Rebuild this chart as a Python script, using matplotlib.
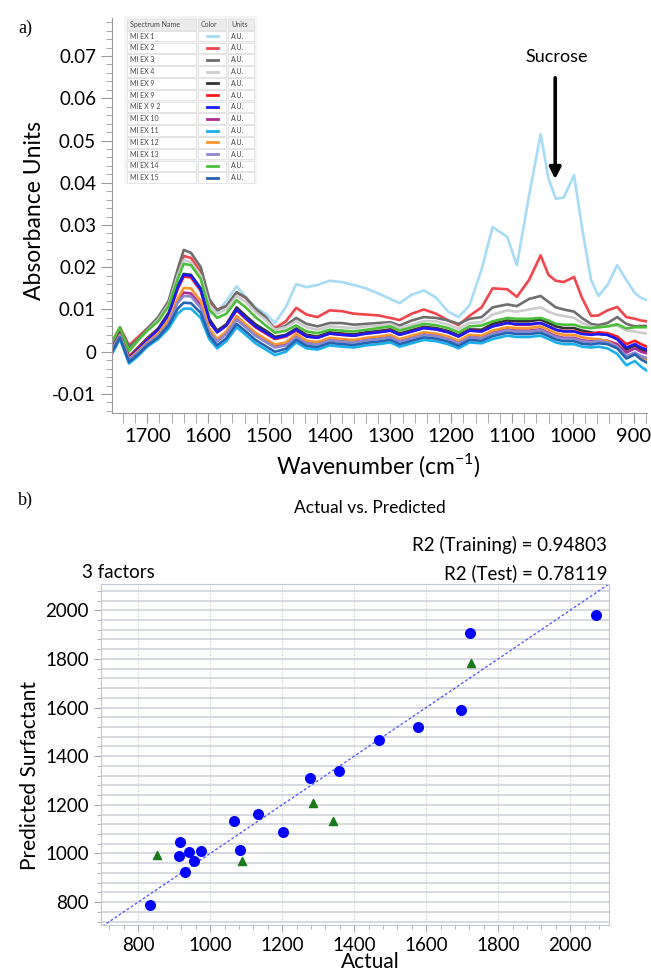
import matplotlib
matplotlib.use("Agg")
import matplotlib.pyplot as plt
from matplotlib.patches import Rectangle
from matplotlib.ticker import MultipleLocator

plt.rcParams['font.family'] = ['Lato', 'DejaVu Sans']

# panel a) FTIR spectra, absorbance
wavenumber = [1758, 1745, 1730, 1715, 1700, 1682, 1665, 1650, 1640, 1628,
              1612, 1598, 1585, 1570, 1553, 1538, 1522, 1505, 1490, 1472,
              1455, 1438, 1420, 1400, 1380, 1360, 1340, 1320, 1300, 1285,
              1265, 1245, 1225, 1205, 1188, 1170, 1150, 1132, 1108, 1092,
              1072, 1053, 1040, 1028, 1015, 998, 985, 970, 958, 943,
              927, 912, 898, 888, 878]

mi_ex_1 = [0.0015, 0.0050, 0.0010, 0.0030, 0.0050, 0.0075, 0.0110, 0.0160, 0.0185, 0.0175,
           0.0140, 0.0090, 0.0095, 0.0120, 0.0155, 0.0130, 0.0105, 0.0090, 0.0068, 0.0106,
           0.0160, 0.0153, 0.0158, 0.0168, 0.0165, 0.0158, 0.0150, 0.0138, 0.0125, 0.0115,
           0.0135, 0.0145, 0.0128, 0.0095, 0.0082, 0.0110, 0.0195, 0.0295, 0.0272, 0.0205,
           0.0370, 0.0515, 0.0410, 0.0362, 0.0365, 0.0418, 0.0295, 0.0170, 0.0132, 0.0158,
           0.0205, 0.0170, 0.0139, 0.0128, 0.0122]
mi_ex_2 = [0.0022, 0.0058, 0.0015, 0.0035, 0.0055, 0.0080, 0.0115, 0.0185, 0.0227, 0.0222,
           0.0188, 0.0118, 0.0100, 0.0108, 0.0140, 0.0128, 0.0100, 0.0078, 0.0056, 0.0072,
           0.0104, 0.0088, 0.0082, 0.0098, 0.0096, 0.0090, 0.0088, 0.0086, 0.0080, 0.0075,
           0.0090, 0.0100, 0.0090, 0.0074, 0.0063, 0.0085, 0.0105, 0.0150, 0.0148, 0.0130,
           0.0170, 0.0228, 0.0182, 0.0168, 0.0165, 0.0177, 0.0128, 0.0085, 0.0086, 0.0098,
           0.0106, 0.0082, 0.0078, 0.0074, 0.0072]
mi_ex_3 = [0.0020, 0.0055, 0.0012, 0.0030, 0.0054, 0.0082, 0.0120, 0.0195, 0.0241, 0.0234,
           0.0200, 0.0125, 0.0098, 0.0108, 0.0141, 0.0128, 0.0102, 0.0082, 0.0052, 0.0062,
           0.0080, 0.0066, 0.0060, 0.0068, 0.0068, 0.0064, 0.0066, 0.0068, 0.0070, 0.0062,
           0.0074, 0.0082, 0.0080, 0.0074, 0.0066, 0.0078, 0.0082, 0.0105, 0.0112, 0.0108,
           0.0125, 0.0132, 0.0118, 0.0105, 0.0100, 0.0095, 0.0080, 0.0066, 0.0063, 0.0068,
           0.0082, 0.0066, 0.0060, 0.0061, 0.0061]
mi_ex_4 = [0.0015, 0.0050, 0.0000, 0.0025, 0.0050, 0.0076, 0.0112, 0.0180, 0.0217, 0.0212,
           0.0180, 0.0110, 0.0090, 0.0100, 0.0132, 0.0118, 0.0094, 0.0075, 0.0052, 0.0058,
           0.0072, 0.0058, 0.0052, 0.0060, 0.0058, 0.0056, 0.0060, 0.0062, 0.0066, 0.0056,
           0.0064, 0.0073, 0.0072, 0.0064, 0.0054, 0.0068, 0.0070, 0.0088, 0.0098, 0.0095,
           0.0100, 0.0105, 0.0095, 0.0088, 0.0085, 0.0080, 0.0068, 0.0060, 0.0058, 0.0060,
           0.0062, 0.0050, 0.0048, 0.0045, 0.0043]
mi_ex_9 = [0.0011, 0.0046, -0.0012, 0.0010, 0.0032, 0.0055, 0.0092, 0.0155, 0.0184, 0.0182,
           0.0150, 0.0078, 0.0050, 0.0065, 0.0105, 0.0085, 0.0065, 0.0050, 0.0035, 0.0040,
           0.0055, 0.0040, 0.0036, 0.0046, 0.0043, 0.0041, 0.0046, 0.0049, 0.0053, 0.0043,
           0.0051, 0.0059, 0.0056, 0.0049, 0.0039, 0.0053, 0.0052, 0.0066, 0.0074, 0.0072,
           0.0072, 0.0076, 0.0068, 0.0060, 0.0056, 0.0056, 0.0050, 0.0046, 0.0042, 0.0040,
           0.0030, 0.0005, 0.0015, 0.0005, 0.0000]
mi_ex_9b = [0.0010, 0.0045, -0.0013, 0.0008, 0.0030, 0.0052, 0.0086, 0.0148, 0.0178, 0.0176,
            0.0145, 0.0070, 0.0046, 0.0062, 0.0098, 0.0078, 0.0058, 0.0043, 0.0030, 0.0036,
            0.0050, 0.0036, 0.0033, 0.0043, 0.0040, 0.0038, 0.0043, 0.0046, 0.0050, 0.0040,
            0.0048, 0.0056, 0.0053, 0.0046, 0.0036, 0.0050, 0.0048, 0.0060, 0.0068, 0.0064,
            0.0064, 0.0068, 0.0060, 0.0052, 0.0049, 0.0049, 0.0044, 0.0043, 0.0046, 0.0044,
            0.0036, 0.0018, 0.0026, 0.0018, 0.0012]
mie_x_9_2 = [0.0007, 0.0042, -0.0016, 0.0006, 0.0028, 0.0052, 0.0088, 0.0152, 0.0182, 0.0180,
             0.0148, 0.0072, 0.0046, 0.0062, 0.0100, 0.0080, 0.0060, 0.0045, 0.0032, 0.0038,
             0.0052, 0.0036, 0.0033, 0.0043, 0.0040, 0.0038, 0.0043, 0.0046, 0.0050, 0.0040,
             0.0048, 0.0056, 0.0053, 0.0046, 0.0036, 0.0050, 0.0048, 0.0060, 0.0068, 0.0065,
             0.0065, 0.0068, 0.0060, 0.0052, 0.0048, 0.0048, 0.0042, 0.0040, 0.0042, 0.0040,
             0.0030, 0.0010, 0.0018, 0.0010, 0.0005]
mi_ex_10 = [0.0004, 0.0039, -0.0019, 0.0000, 0.0020, 0.0040, 0.0068, 0.0122, 0.0140, 0.0138,
            0.0110, 0.0050, 0.0026, 0.0044, 0.0078, 0.0060, 0.0040, 0.0025, 0.0012, 0.0018,
            0.0038, 0.0023, 0.0020, 0.0030, 0.0027, 0.0025, 0.0030, 0.0033, 0.0037, 0.0027,
            0.0035, 0.0043, 0.0040, 0.0033, 0.0023, 0.0037, 0.0035, 0.0045, 0.0053, 0.0050,
            0.0050, 0.0053, 0.0045, 0.0037, 0.0033, 0.0033, 0.0027, 0.0025, 0.0028, 0.0026,
            0.0018, -0.0002, 0.0008, 0.0000, -0.0004]
mi_ex_11 = [-0.0005, 0.0030, -0.0028, -0.0010, 0.0012, 0.0030, 0.0055, 0.0090, 0.0102, 0.0102,
            0.0080, 0.0030, 0.0008, 0.0025, 0.0058, 0.0040, 0.0020, 0.0005, -0.0008, 0.0000,
            0.0022, 0.0008, 0.0005, 0.0015, 0.0012, 0.0010, 0.0015, 0.0018, 0.0022, 0.0012,
            0.0020, 0.0028, 0.0025, 0.0018, 0.0008, 0.0022, 0.0020, 0.0030, 0.0038, 0.0035,
            0.0035, 0.0038, 0.0030, 0.0022, 0.0018, 0.0018, 0.0012, 0.0010, 0.0012, 0.0008,
            -0.0005, -0.0032, -0.0022, -0.0035, -0.0045]
mi_ex_12 = [0.0004, 0.0040, -0.0018, 0.0002, 0.0022, 0.0043, 0.0075, 0.0125, 0.0151, 0.0150,
            0.0120, 0.0055, 0.0030, 0.0048, 0.0084, 0.0065, 0.0045, 0.0030, 0.0017, 0.0022,
            0.0042, 0.0026, 0.0023, 0.0033, 0.0030, 0.0028, 0.0033, 0.0036, 0.0040, 0.0030,
            0.0038, 0.0046, 0.0043, 0.0036, 0.0026, 0.0040, 0.0038, 0.0050, 0.0058, 0.0056,
            0.0056, 0.0060, 0.0052, 0.0044, 0.0040, 0.0040, 0.0034, 0.0031, 0.0030, 0.0025,
            0.0012, -0.0014, -0.0006, -0.0014, -0.0018]
mi_ex_13 = [0.0003, 0.0038, -0.0020, -0.0001, 0.0019, 0.0038, 0.0066, 0.0116, 0.0132, 0.0131,
            0.0104, 0.0046, 0.0024, 0.0042, 0.0076, 0.0058, 0.0038, 0.0023, 0.0010, 0.0015,
            0.0034, 0.0020, 0.0017, 0.0027, 0.0024, 0.0022, 0.0027, 0.0030, 0.0034, 0.0024,
            0.0032, 0.0040, 0.0037, 0.0030, 0.0020, 0.0034, 0.0032, 0.0043, 0.0051, 0.0048,
            0.0048, 0.0051, 0.0043, 0.0035, 0.0031, 0.0031, 0.0025, 0.0023, 0.0026, 0.0022,
            0.0012, -0.0010, -0.0002, -0.0010, -0.0015]
mi_ex_14 = [0.0022, 0.0058, 0.0002, 0.0028, 0.0050, 0.0072, 0.0108, 0.0172, 0.0208, 0.0205,
            0.0172, 0.0100, 0.0080, 0.0090, 0.0122, 0.0105, 0.0082, 0.0062, 0.0045, 0.0050,
            0.0062, 0.0048, 0.0044, 0.0052, 0.0050, 0.0048, 0.0052, 0.0056, 0.0060, 0.0050,
            0.0058, 0.0066, 0.0063, 0.0056, 0.0046, 0.0060, 0.0062, 0.0072, 0.0080, 0.0078,
            0.0078, 0.0080, 0.0074, 0.0066, 0.0064, 0.0064, 0.0058, 0.0056, 0.0058, 0.0060,
            0.0065, 0.0055, 0.0058, 0.0058, 0.0058]
mi_ex_15 = [-0.0001, 0.0034, -0.0024, -0.0006, 0.0015, 0.0034, 0.0062, 0.0102, 0.0116, 0.0115,
            0.0092, 0.0038, 0.0015, 0.0032, 0.0066, 0.0048, 0.0028, 0.0013, 0.0000, 0.0007,
            0.0028, 0.0014, 0.0011, 0.0021, 0.0018, 0.0016, 0.0021, 0.0024, 0.0028, 0.0018,
            0.0026, 0.0034, 0.0031, 0.0024, 0.0014, 0.0028, 0.0026, 0.0037, 0.0045, 0.0042,
            0.0042, 0.0045, 0.0037, 0.0029, 0.0025, 0.0025, 0.0019, 0.0017, 0.0020, 0.0018,
            0.0008, -0.0016, -0.0006, -0.0018, -0.0026]

spectrum_names = ["MI EX 1", "MI EX 2", "MI EX 3", "MI EX 4", "MI EX 9", "MI EX 9",
                  "MIE X 9 2", "MI EX 10", "MI EX 11", "MI EX 12", "MI EX 13",
                  "MI EX 14", "MI EX 15"]
spectra = [mi_ex_1, mi_ex_2, mi_ex_3, mi_ex_4, mi_ex_9, mi_ex_9b, mie_x_9_2,
           mi_ex_10, mi_ex_11, mi_ex_12, mi_ex_13, mi_ex_14, mi_ex_15]
colors = ['#a6dcf5', '#f0454a', '#6e6e6e', '#cccccc', '#333333', '#ff1a1a', '#1a1aff',
          '#b02d96', '#1ab0ec', '#f7962e', '#8f86d0', '#4cbf3a', '#2563b0']

ytick_vals = [-0.01, 0, 0.01, 0.02, 0.03, 0.04, 0.05, 0.06, 0.07]
ytick_text = ["-0.01", "0", "0.01", "0.02", "0.03", "0.04", "0.05", "0.06", "0.07"]
xtick_vals = [1700, 1600, 1500, 1400, 1300, 1200, 1100, 1000, 900]

# panel b) actual vs predicted surfactant
actual_train = [833, 916, 914, 940, 975, 955, 929, 1067, 1134, 1084, 1202, 1277, 1359,
                1468, 1577, 1697, 1723, 2071]
pred_train = [788, 1047, 990, 1006, 1010, 968, 922, 1132, 1163, 1014, 1090, 1312, 1341,
              1466, 1522, 1592, 1907, 1982]
actual_test = [852, 1089, 1285, 1342, 1724]
pred_test = [995, 969, 1207, 1132, 1784]

W, H = 651, 973
fig = plt.figure(figsize=(W / 100, H / 100), dpi=100)
fig.patch.set_facecolor('white')

# ---------------- panel a ----------------
ax1 = fig.add_axes([112 / W, 1 - 413 / H, 535 / W, 395 / H])
for i in range(len(spectra)):
    ax1.plot(wavenumber, spectra[i], color=colors[i], linewidth=1.9)

ax1.set_xlim(1758, 878)
ax1.set_ylim(-0.0145, 0.079)
ax1.set_yticks(ytick_vals, ytick_text)
ax1.yaxis.set_minor_locator(MultipleLocator(0.002))
ax1.set_xticks(xtick_vals)
ax1.xaxis.set_minor_locator(MultipleLocator(20))
for s in ['top', 'right']:
    ax1.spines[s].set_visible(False)
for s in ['left', 'bottom']:
    ax1.spines[s].set_color('#9a9a9a')
ax1.tick_params(which='both', direction='out', color='#9a9a9a')
ax1.tick_params(axis='y', which='major', length=8, labelsize=13.5)
ax1.tick_params(axis='y', which='minor', length=4)
ax1.tick_params(axis='x', which='both', length=7, labelsize=14.5)

fig.text(35 / W, 1 - 210 / H, 'Absorbance Units', rotation=90, fontsize=16.5,
         ha='center', va='center')
fig.text(378 / W, 1 - 465 / H, 'Wavenumber (cm$^{\\mathregular{-1}}$)', fontsize=16.5,
         ha='center', va='center')
fig.text(18 / W, 1 - 28 / H, 'a)', family='Liberation Serif', fontsize=13,
         ha='left', va='center')

# sucrose marker
ax1.annotate('', xy=(1029, 0.0402), xytext=(1029, 0.0655),
             arrowprops=dict(arrowstyle='-|>', color='black', lw=2.6, mutation_scale=17))
ax1.text(1027, 0.0698, 'Sucrose', fontsize=13, ha='center', va='center')

# spectrum table (legend)
tab = fig.add_axes([124 / W, 1 - 184 / H, 133 / W, 168 / H])
tab.set_xlim(0, 133)
tab.set_ylim(168, 0)
tab.axis('off')
tab.add_patch(Rectangle((0, 0), 133, 168, facecolor='#f4f4f4', edgecolor='none'))
cols = [(3, 69), (74, 28), (104, 26)]
header = ['Spectrum Name', 'Color', 'Units']
row_h = 11.8
for r in range(14):
    top = 3 + r * row_h
    for c in range(3):
        x0, w = cols[c]
        face = '#ececec' if r == 0 else 'white'
        tab.add_patch(Rectangle((x0, top), w, row_h - 1.2, facecolor=face,
                                edgecolor='#e0e0e0', linewidth=0.6))
    yc = top + (row_h - 1.2) / 2
    if r == 0:
        for c in range(3):
            tab.text(cols[c][0] + 3, yc, header[c], fontsize=5, color='#444444',
                     ha='left', va='center')
    else:
        tab.text(cols[0][0] + 3, yc, spectrum_names[r - 1], fontsize=5, color='#444444',
                 ha='left', va='center')
        tab.plot([83, 94], [yc, yc], color=colors[r - 1], linewidth=2)
        tab.text(cols[2][0] + 3, yc, 'A.U.', fontsize=5, color='#444444',
                 ha='left', va='center')

# ---------------- panel b ----------------
ax2 = fig.add_axes([100.7 / W, 1 - 925 / H, 508.3 / W, 341 / H])
ax2.plot([690, 2110], [690, 2110], color='#5a5aff', linewidth=1.0, linestyle=(0, (2, 1.5)),
         zorder=2)
ax2.scatter(actual_train, pred_train, s=48, color='#0000ff', zorder=3)
ax2.scatter(actual_test, pred_test, marker='^', s=34, color='#1a7a1a', zorder=3)

ax2.set_xlim(696, 2108)
ax2.set_ylim(706, 2108)
ax2.set_xticks([800, 1000, 1200, 1400, 1600, 1800, 2000])
ax2.set_yticks([800, 1000, 1200, 1400, 1600, 1800, 2000])
ax2.xaxis.set_minor_locator(MultipleLocator(40))
ax2.yaxis.set_minor_locator(MultipleLocator(40))
ax2.grid(axis='y', which='both', color='#cfd3db', linewidth=1.2)
ax2.grid(axis='x', which='major', color='#c8c8c8', linewidth=0.8, linestyle=(0, (1, 1.5)))
ax2.set_axisbelow(True)
for s in ax2.spines.values():
    s.set_color('#c4c8d0')
ax2.tick_params(which='both', direction='out', color='#a8a8a8', labelsize=13.5)
ax2.tick_params(which='major', length=5)
ax2.tick_params(which='minor', length=3)

fig.text(370 / W, 1 - 508 / H, 'Actual vs. Predicted', fontsize=12.5, ha='center', va='center')
fig.text(607 / W, 1 - 545 / H, 'R2 (Training) = 0.94803', fontsize=13.5, ha='right', va='center')
fig.text(607 / W, 1 - 573 / H, 'R2 (Test) = 0.78119', fontsize=13.5, ha='right', va='center')
fig.text(82 / W, 1 - 573 / H, '3 factors', fontsize=13.5, ha='left', va='center')
fig.text(30 / W, 1 - 776 / H, 'Predicted Surfactant', rotation=90, fontsize=15,
         ha='center', va='center')
fig.text(370 / W, 1 - 962 / H, 'Actual', fontsize=15, ha='center', va='center')
fig.text(18 / W, 1 - 500 / H, 'b)', family='Liberation Serif', fontsize=13,
         ha='left', va='center')

fig.savefig('out.png', dpi=100)
